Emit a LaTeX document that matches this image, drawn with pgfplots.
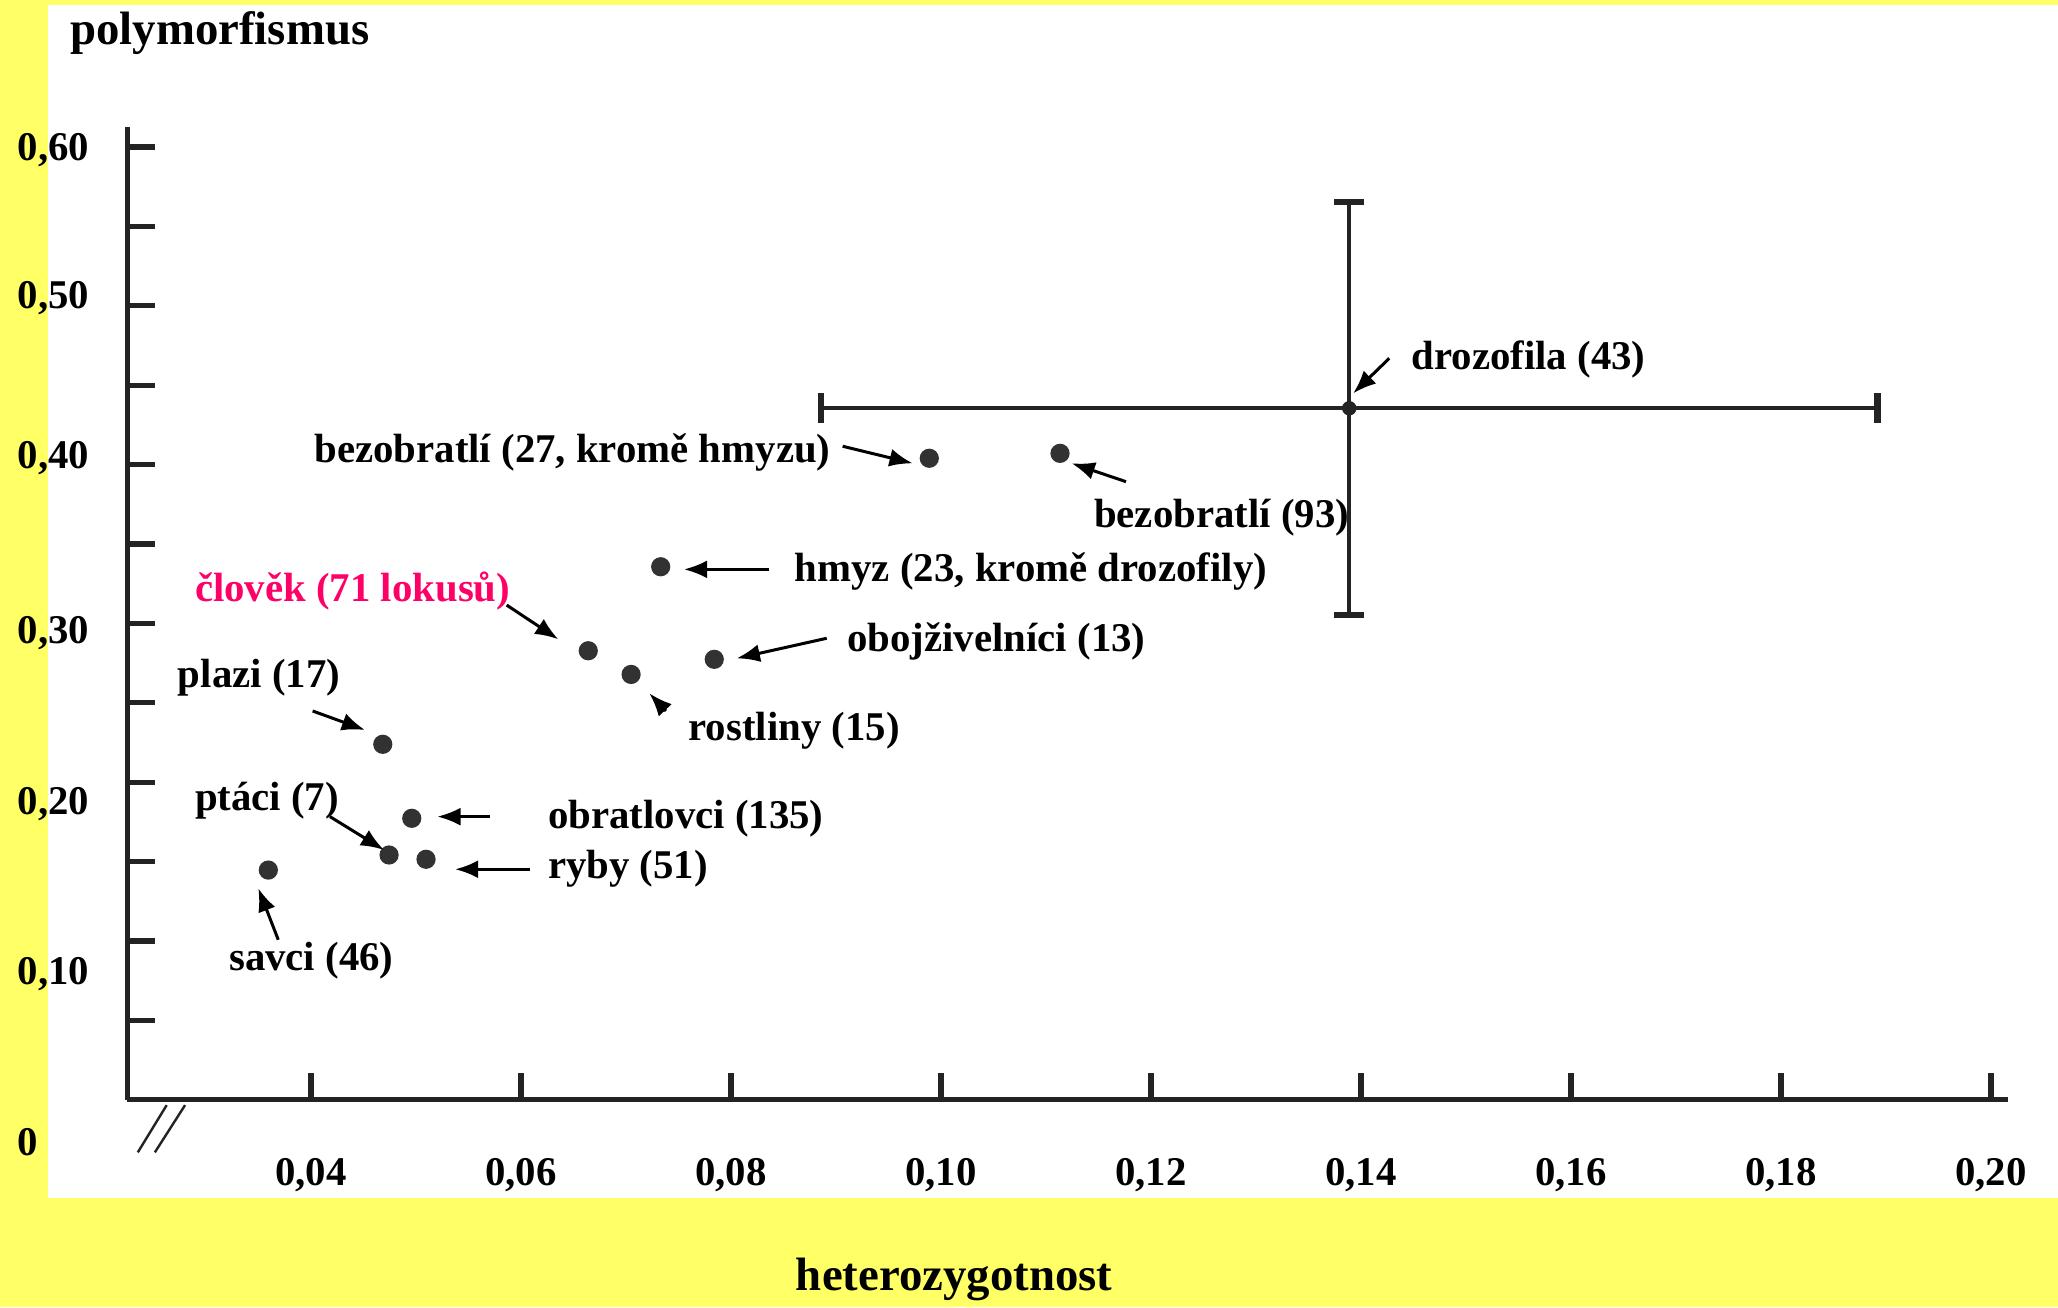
\documentclass[border=0pt]{standalone}
\usepackage{fontspec}
\setmainfont{Liberation Serif}
\usepackage{pgfplots}
\pgfplotsset{compat=1.18}
\usetikzlibrary{arrows.meta}
\definecolor{bgyellow}{RGB}{255,255,102}
\definecolor{humanpink}{RGB}{255,0,102}
\definecolor{ink}{RGB}{35,35,35}
\definecolor{dot}{RGB}{50,50,50}
\begin{document}
\begin{tikzpicture}
\begin{scope}[x=0.328125pt,y=-0.328125pt]
\useasboundingbox (0,0) rectangle (1568,996);
\fill[bgyellow] (0,0) rectangle (1568,996);
\fill[white] (36.6,4) rectangle (1568,912.5);
\end{scope}
\begin{axis}[
  at={(31.828pt,-274.97pt)}, anchor=south west,
  scale only axis, width=470.2pt, height=243.14pt,
  xmin=0.0225, xmax=0.201625, ymin=0, ymax=0.6124,
  clip=false,
  axis lines*=left,
  axis line style={line width=1.2pt, ink},
  tick align=inside,
  major tick length=6.8pt,
  tick style={line width=1.3pt, ink},
  xtick={0.04,0.06,0.08,0.10,0.12,0.14,0.16,0.18,0.20},
  xticklabels={0{,}04,0{,}06,0{,}08,0{,}10,0{,}12,0{,}14,0{,}16,0{,}18,0{,}20},
  xticklabel style={font=\fontsize{10.2}{12}\selectfont\bfseries, anchor=center, inner sep=0pt, text height=0.676em, text depth=0pt, yshift=-18pt},
  ytick={0.05,0.10,0.15,0.20,0.25,0.30,0.35,0.40,0.45,0.50,0.55,0.60},
  yticklabels={},
  extra y ticks={0.081,0.188,0.296,0.406,0.507,0.600},
  extra y tick labels={0{,}10,0{,}20,0{,}30,0{,}40,0{,}50,0{,}60},
  extra y tick style={major tick length=0pt, tick style={draw=none},
    yticklabel style={font=\fontsize{10.2}{12}\selectfont\bfseries, anchor=west, inner sep=0pt, text height=0.676em, text depth=0pt, xshift=-27.56pt}},
  xlabel={heterozygotnost},
  ylabel={polymorfismus},
  xlabel style={font=\fontsize{11.7}{14}\selectfont\bfseries, at={(axis description cs:0.4396,-0.1849)}, anchor=center, inner sep=0pt},
  ylabel style={font=\fontsize{11.7}{14}\selectfont\bfseries, rotate=-90, at={(axis description cs:0.0492,1.0974)}, anchor=center, inner sep=0pt},
]
% skupiny organismu
\addplot[only marks, mark=*, mark size=2.2pt, color=dot] coordinates {
  (0.03593,0.1447)  % savci
  (0.04743,0.1542)  % ptaci
  (0.05095,0.1515)  % ryby
  (0.04959,0.1773)  % obratlovci
  (0.04683,0.2239)  % plazi
  (0.06640,0.2828)  % clovek
  (0.07048,0.2679)  % rostliny
  (0.07840,0.2774)  % obojzivelnici
  (0.07330,0.3357)  % hmyz
  (0.09888,0.4040)  % bezobratli 27
  (0.11133,0.4071)  % bezobratli 93
};
% drozofila s chybovymi useckami
\addplot[only marks, mark=*, mark size=1.6pt, color=ink,
  error bars/.cd, x dir=both, y dir=both, x explicit, y explicit,
  error bar style={line width=1pt, ink},
  error mark options={rotate=90, line width=1.6pt, mark size=3.8pt, ink}]
  coordinates {(0.138875,0.4355) +- (0.0503,0.1300)};
\end{axis}
\begin{scope}[x=0.328125pt,y=-0.328125pt,
  lab/.style={font=\fontsize{10.2}{12}\selectfont\bfseries, inner sep=0pt, text height=0.69em, text depth=0.22em, anchor=west},
  arr/.style={-{Latex[length=5.8pt,width=4.5pt]}, line width=0.75pt}]
% 0 label and axis break
\node[font=\fontsize{10.2}{12}\selectfont\bfseries, inner sep=0pt, text height=0.676em, text depth=0pt, anchor=west] at (13,870) {0};
\draw[line width=0.6pt, ink] (105,878) -- (127,842) (118,878) -- (141,842);
% annotations
\node[lab] at (239,345) {bezobratlí (27, kromě hmyzu)};
\node[lab] at (833,395) {bezobratlí (93)};
\node[lab] at (1075,274) {drozofila (43)};
\node[lab] at (605,436) {hmyz (23, kromě drozofily)};
\node[lab] at (645,489) {obojživelníci (13)};
\node[lab] at (524,557) {rostliny (15)};
\node[lab, text=humanpink] at (148,451) {člověk (71 lokusů)};
\node[lab] at (135,517) {plazi (17)};
\node[lab] at (148,610) {ptáci (7)};
\node[lab] at (174,732) {savci (46)};
\node[lab] at (417,624) {obratlovci (135)};
\node[lab] at (417,662) {ryby (51)};
% arrows
\draw[arr] (386,461) -- (425.4,487.1);
\draw[arr] (238.2,541.7) -- (278.1,556.2);
\draw[arr] (251.4,622.2) -- (292.6,647.6);
\draw[arr] (373.3,622.2) -- (333.2,622.2);
\draw[arr] (404,662.3) -- (346.7,662.3);
\draw[arr] (507.4,541.7) -- (494.7,528.2);
\draw[arr] (212,716) -- (196.8,676.8);
\draw[arr] (586,433.8) -- (521.1,433.8);
\draw[arr] (629.9,486.3) -- (561.3,501.6);
\draw[arr] (642,340) -- (695.4,353);
\draw[arr] (857.9,367) -- (816.5,353);
\draw[arr] (1058.5,273) -- (1031,299.7);
\end{scope}
\end{tikzpicture}
\end{document}
